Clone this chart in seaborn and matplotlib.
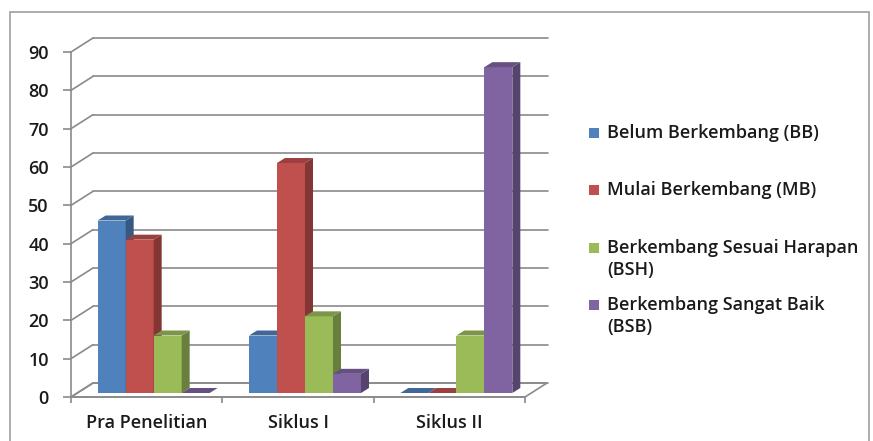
import numpy as np
import pandas as pd
import matplotlib
matplotlib.use("Agg")
import matplotlib.pyplot as plt
import seaborn as sns
from matplotlib.patches import Polygon, Rectangle
from matplotlib.lines import Line2D
import matplotlib.colors as mcolors

# ---------------- data ----------------
categories = ["Pra Penelitian", "Siklus I", "Siklus II"]
series = ["Belum Berkembang (BB)", "Mulai Berkembang (MB)",
          "Berkembang Sesuai Harapan (BSH)", "Berkembang Sangat Baik (BSB)"]
legend_labels = ["Belum Berkembang (BB)", "Mulai Berkembang (MB)",
                 "Berkembang Sesuai Harapan\n(BSH)", "Berkembang Sangat Baik\n(BSB)"]
bb = [45, 15, 0]
mb = [40, 60, 0]
bsh = [15, 20, 15]
bsb = [0, 5, 85]
yticks = [0, 10, 20, 30, 40, 50, 60, 70, 80, 90]
colors = ["#4F81BD", "#C0504D", "#9BBB59", "#8064A2"]

values = [bb, mb, bsh, bsb]
rows = []
for s, vals in zip(series, values):
    for c, v in zip(categories, vals):
        rows.append({"Kategori": c, "Nilai": v, "Seri": s})
df = pd.DataFrame(rows)

# ---------------- style ----------------
sns.set_style("white")
plt.rcParams["font.family"] = ["Open Sans", "DejaVu Sans"]
TXT = "#1a1a1a"
GRID = "#8a8a8a"
FS = 13
FW = "semibold"

W, H = 873, 441
fig = plt.figure(figsize=(W / 100, H / 100), dpi=100)
ax = fig.add_axes([71 / W, 1 - 397 / H, (525 - 71) / W, (397 - 52) / H])

sns.barplot(data=df, x="Kategori", y="Nilai", hue="Seri", order=categories,
            hue_order=series, palette=colors, saturation=1, width=0.74,
            errorbar=None, legend=False, ax=ax, linewidth=0, edgecolor="none")
ax.set_xlim(-0.5, 2.5)
ax.set_ylim(0, 90)
ax.set_facecolor("none")
ax.set_xlabel("")
ax.set_ylabel("")

inv = ax.transData.inverted()


def off(x, y, dx, dy):
    p = ax.transData.transform((x, y))
    return tuple(inv.transform((p[0] + dx, p[1] + dy)))


WX, WY = 22, 14    # wall depth (pixels)
BX, BY = 7, 4      # bar front-plane offset
DX, DY = 8, 5      # bar depth

# floor
floor = Polygon([(-0.5, 0), (2.5, 0), off(2.5, 0, WX, WY), off(-0.5, 0, WX, WY)],
                closed=True, facecolor="white", edgecolor=GRID, linewidth=1.2,
                zorder=0.3, clip_on=False)
ax.add_patch(floor)

# back wall gridlines + side wall lines
for t in yticks:
    b0 = off(-0.5, t, WX, WY)
    b1 = off(2.5, t, WX + 1, WY)
    ax.add_line(Line2D([b0[0], b1[0]], [b0[1], b1[1]], color=GRID, lw=1.2,
                       zorder=0.4, clip_on=False))
    ax.add_line(Line2D([-0.5, b0[0]], [t, b0[1]], color=GRID, lw=1.2,
                       zorder=0.4, clip_on=False))

# 3-D bars
bars = []
for i, cont in enumerate(ax.containers):
    for p in cont.patches:
        bars.append((p.get_x(), i, p))
bars.sort(key=lambda b: b[0])


def shade(c, f):
    r, g, b = mcolors.to_rgb(c)
    return (r * f, g * f, b * f)


for rank, (x, i, p) in enumerate(bars):
    w = p.get_width()
    h = p.get_height()
    nx, ny = off(x, 0, BX, BY)
    p.set_x(nx)
    p.set_y(ny)
    z = 2 + rank * 0.05
    p.set_zorder(z)
    p.set_clip_on(False)
    c = colors[i]
    side = Polygon([(nx + w, ny), (nx + w, ny + h), off(nx + w, ny + h, DX, DY),
                    off(nx + w, ny, DX, DY)], closed=True, facecolor=shade(c, 0.68),
                   edgecolor="none", zorder=z, clip_on=False)
    top = Polygon([(nx, ny + h), (nx + w, ny + h), off(nx + w, ny + h, DX, DY),
                   off(nx, ny + h, DX, DY)], closed=True, facecolor=shade(c, 0.8),
                  edgecolor="none", zorder=z, clip_on=False)
    ax.add_patch(side)
    ax.add_patch(top)

# axes / ticks
for s in ["top", "right"]:
    ax.spines[s].set_visible(False)
for s in ["left", "bottom"]:
    ax.spines[s].set_color(GRID)
    ax.spines[s].set_linewidth(1.2)
    ax.spines[s].set_zorder(0.5)
ax.set_yticks(yticks)
ax.set_yticklabels([str(t) for t in yticks], fontweight=FW)
ax.set_xticks([-0.5, 0.5, 1.5, 2.5])
ax.set_xticklabels([])
ax.set_xticks([0, 1, 2], minor=True)
ax.set_xticklabels(categories, minor=True, fontweight=FW)
ax.tick_params(axis="y", which="major", direction="out", length=5.5, width=1.2,
               color=GRID, pad=10.5, labelsize=FS, labelcolor=TXT, left=True)
ax.tick_params(axis="x", which="major", direction="out", length=4, width=1.2,
               color=GRID, bottom=True)
ax.tick_params(axis="x", which="minor", length=0, pad=12, labelsize=FS,
               labelcolor=TXT, bottom=True)
ax.grid(False)

# legend (drawn manually for exact placement)
leg_y = [133, 190, 248, 305]
for lab, c, y in zip(legend_labels, colors, leg_y):
    fig.patches.append(Rectangle((589 / W, 1 - (y + 5) / H), 10 / W, 10 / H,
                                 transform=fig.transFigure, facecolor=c,
                                 edgecolor="none", figure=fig))
    parts = lab.split("\n")
    fig.text(607 / W, 1 - y / H, parts[0], ha="left", va="center",
             fontsize=FS, color=TXT, fontweight=FW)
    if len(parts) > 1:
        fig.text(607 / W, 1 - (y + 22) / H, parts[1], ha="left",
                 va="center", fontsize=FS, color=TXT, fontweight=FW)

# outer chart border
fig.patches.append(Rectangle((10 / W, -0.05), (869 - 10) / W, 1.05 - 12 / H,
                             transform=fig.transFigure, facecolor="none",
                             edgecolor="#a6a6a6", linewidth=1.3, figure=fig))

fig.savefig("out.png", dpi=100, facecolor="white")
